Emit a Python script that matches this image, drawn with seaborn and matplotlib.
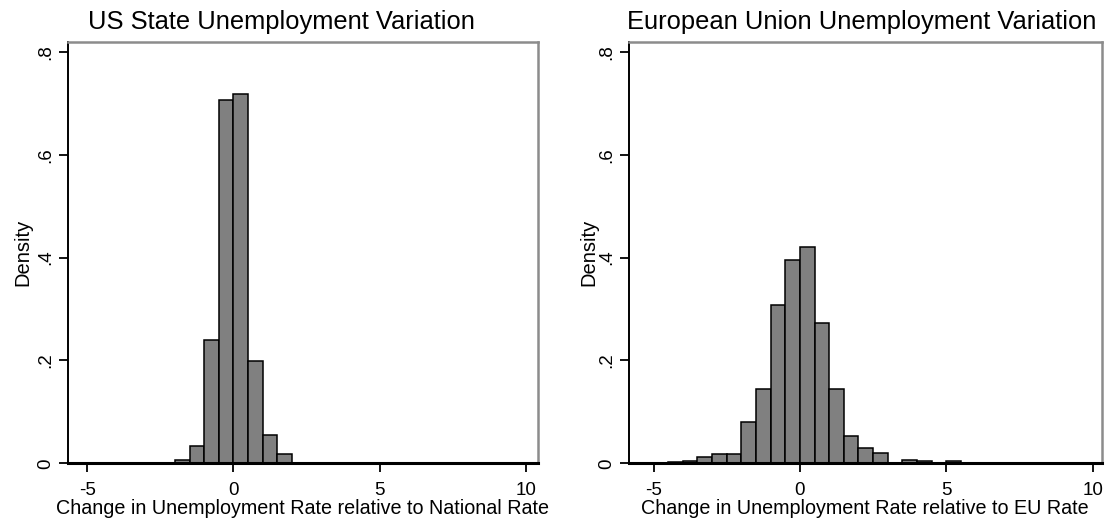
# Histograms of unemployment-rate changes: US states vs EU members
import numpy as np
import pandas as pd
import matplotlib
matplotlib.use("Agg")
import matplotlib.pyplot as plt
import seaborn as sns

# ---------------------------
# Data (bin edges of width 0.5, density heights)
# ---------------------------
us_edges = [-2.0, -1.5, -1.0, -0.5, 0.0, 0.5, 1.0, 1.5, 2.0]
us_density = [0.007, 0.034, 0.239, 0.707, 0.719, 0.199, 0.056, 0.019]

eu_edges = [-4.5, -4.0, -3.5, -3.0, -2.5, -2.0, -1.5, -1.0, -0.5, 0.0, 0.5,
            1.0, 1.5, 2.0, 2.5, 3.0, 3.5, 4.0, 4.5, 5.0, 5.5]
eu_density = [0.003, 0.004, 0.012, 0.018, 0.018, 0.080, 0.145, 0.307, 0.396,
              0.420, 0.273, 0.145, 0.053, 0.030, 0.020, 0.0, 0.0065, 0.0045,
              0.0, 0.0045]

titles = ["US State Unemployment Variation", "European Union Unemployment Variation"]
xlabels = ["Change in Unemployment Rate relative to National Rate",
           "Change in Unemployment Rate relative to EU Rate"]
xticks = [-5, 0, 5, 10]
yticks = [0, 0.2, 0.4, 0.6, 0.8]
ytick_labels = ["0", ".2", ".4", ".6", ".8"]

# ---------------------------
# Style
# ---------------------------
sns.set_style("white")
plt.rcParams.update({
    "font.family": ["Liberation Sans", "DejaVu Sans"],
    "text.color": "black",
    "axes.labelcolor": "black",
    "xtick.color": "black",
    "ytick.color": "black",
    "xtick.bottom": True,
    "ytick.left": True,
    "xtick.direction": "out",
    "ytick.direction": "out",
    "xtick.major.size": 6.8,
    "ytick.major.size": 6.2,
    "xtick.major.width": 1.2,
    "ytick.major.width": 1.2,
    "xtick.major.pad": 7.0,
    "ytick.major.pad": 3.9,
})

fig = plt.figure(figsize=(11.12, 5.19), dpi=100)
ax_us = fig.add_axes([0.0612, 0.1073, 0.4224, 0.8118])
ax_eu = fig.add_axes([0.5656, 0.1073, 0.4251, 0.8118])

panels = [
    (ax_us, us_edges, us_density, (-5.65, 10.40), -0.0766, 0.253),
    (ax_eu, eu_edges, eu_density, (-5.84, 10.31), -0.065, 0.775),
]

for i, (ax, edges, dens, xlim, ylab_x, title_x) in enumerate(panels):
    e = np.array(edges)
    centers = (e[:-1] + e[1:]) / 2
    df = pd.DataFrame({"x": centers, "w": dens})
    sns.histplot(data=df, x="x", weights="w", bins=list(edges), stat="count",
                 color="#808080", edgecolor="black", linewidth=1.1, alpha=1,
                 ax=ax)

    ax.set_xlim(*xlim)
    ax.set_ylim(0, 0.8195)
    ax.set_xticks(xticks)
    ax.set_xticklabels([str(t) for t in xticks], fontsize=13.5)
    ax.set_yticks(yticks)
    ax.set_yticklabels(ytick_labels, fontsize=13.5, rotation=90, va="center")
    # make sure the small outward ticks are drawn
    ax.tick_params(axis="x", which="major", bottom=True, length=6.8,
                   width=1.3, color="black", pad=7.0)
    ax.tick_params(axis="y", which="major", left=True, length=6.2,
                   width=1.3, color="black", pad=3.9)

    ax.set_xlabel(xlabels[i], fontsize=14.2, labelpad=0)
    ax.set_ylabel("Density", fontsize=14.5)
    ax.yaxis.set_label_coords(ylab_x, 0.5)

    for side in ["left", "bottom"]:
        ax.spines[side].set_color("black")
    ax.spines["left"].set_linewidth(1.4)
    ax.spines["bottom"].set_linewidth(2.2)
    for side in ["top", "right"]:
        ax.spines[side].set_color("#8c8c8c")
        ax.spines[side].set_linewidth(1.8)

    fig.text(title_x, 0.957, titles[i], fontsize=18.4, ha="center", va="center")

fig.savefig("out.png", dpi=100)
